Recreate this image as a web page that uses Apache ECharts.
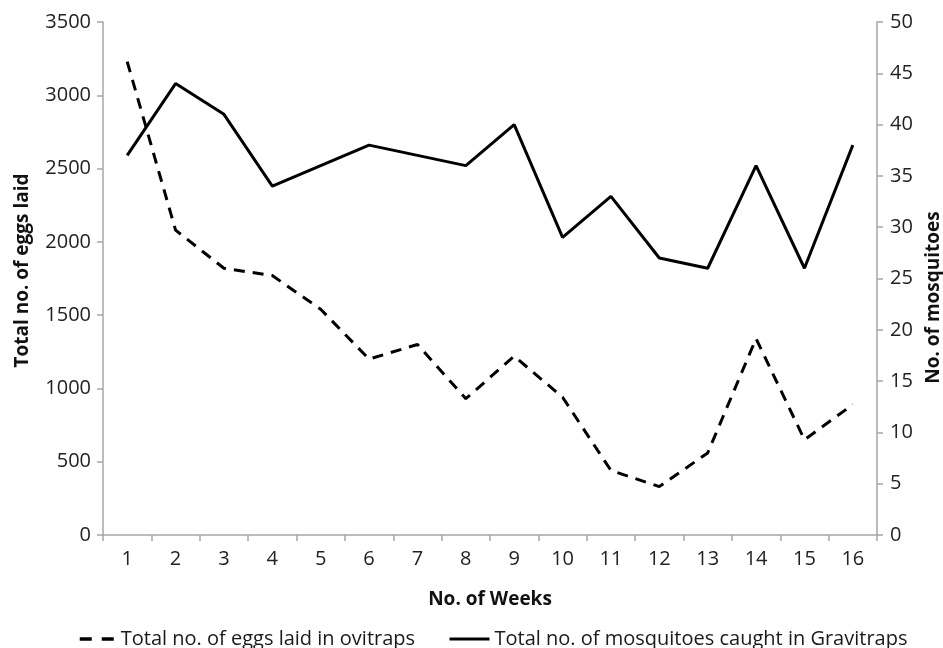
<!DOCTYPE html>
<html>
<head>
<meta charset="utf-8">
<script src="https://cdn.jsdelivr.net/npm/echarts@6/dist/echarts.min.js"></script>
<style>html,body{margin:0;padding:0;background:#fff}#c{width:943px;height:648px}</style>
</head>
<body>
<div id="c"></div>
<script>
const weeks = ['1','2','3','4','5','6','7','8','9','10','11','12','13','14','15','16'];
const eggs = [3230, 2080, 1820, 1770, 1540, 1200, 1300, 930, 1220, 940, 440, 330, 560, 1340, 650, 890];
const mosquitoes = [37, 44, 41, 34, 36, 38, 37, 36, 40, 29, 33, 27, 26, 36, 26, 38];
const leftTicks = [0, 3500, 500];
const rightTicks = [0, 50, 5];

const FONT = '"Open Sans", "Noto Sans", sans-serif';
const axisGray = '#a6a6a6';
const hideSym = { color: 'transparent', borderColor: 'transparent', borderWidth: 0 };
const chart = echarts.init(document.getElementById('c'));
chart.setOption({
  animation: false,
  textStyle: { fontFamily: FONT, color: '#222' },
  grid: { left: 103, right: 66, top: 22, bottom: 113, containLabel: false, outerBoundsMode: 'none' },
  legend: [
    { data: ['Total no. of eggs laid in ovitraps'], left: 73, top: 624, itemWidth: 36, itemHeight: 14, itemGap: 0,
      itemStyle: hideSym, lineStyle: { width: 3.5, color: '#000', type: [12, 10] },
      textStyle: { fontFamily: FONT, fontSize: 20, color: '#1a1a1a' } },
    { data: ['Total no. of mosquitoes caught in Gravitraps'], left: 443, top: 624, itemWidth: 40, itemHeight: 14, itemGap: 0,
      itemStyle: hideSym, lineStyle: { width: 3, color: '#000' },
      textStyle: { fontFamily: FONT, fontSize: 20, color: '#1a1a1a' } }
  ],
  xAxis: {
    type: 'category', data: weeks, boundaryGap: true,
    name: 'No. of Weeks', nameLocation: 'middle', nameGap: 55,
    nameTextStyle: { fontFamily: FONT, fontSize: 19, fontWeight: 'bold', color: '#111' },
    axisLine: { lineStyle: { color: axisGray, width: 1.5 } },
    axisTick: { show: true, alignWithLabel: false, length: 6, lineStyle: { color: axisGray, width: 1.5 } },
    axisLabel: { fontFamily: FONT, fontSize: 20, color: '#222', margin: 14 },
    splitLine: { show: false }
  },
  yAxis: [
    { type: 'value', position: 'left', min: leftTicks[0], max: leftTicks[1], interval: leftTicks[2],
      name: 'Total no. of eggs laid', nameLocation: 'middle', nameRotate: 90, nameGap: 71,
      nameTextStyle: { fontFamily: FONT, fontSize: 19, fontWeight: 'bold', color: '#111', padding: [0, 0, 0, 16] },
      axisLine: { show: true, lineStyle: { color: axisGray, width: 1.5 } },
      axisTick: { show: true, length: 6, lineStyle: { color: axisGray, width: 1.5 } },
      axisLabel: { fontFamily: FONT, fontSize: 20, color: '#222', margin: 12, formatter: v => String(v) },
      splitLine: { show: false } },
    { type: 'value', position: 'right', min: rightTicks[0], max: rightTicks[1], interval: rightTicks[2],
      name: 'No. of mosquitoes', nameLocation: 'middle', nameRotate: 90, nameGap: 44,
      nameTextStyle: { fontFamily: FONT, fontSize: 19, fontWeight: 'bold', color: '#111', padding: [0, 38, 0, 0] },
      axisLine: { show: true, lineStyle: { color: axisGray, width: 1.5 } },
      axisTick: { show: true, length: 6, lineStyle: { color: axisGray, width: 1.5 } },
      axisLabel: { fontFamily: FONT, fontSize: 20, color: '#222', margin: 13, formatter: v => String(v) },
      splitLine: { show: false } }
  ],
  series: [
    { name: 'Total no. of eggs laid in ovitraps', type: 'line', yAxisIndex: 0, data: eggs,
      symbol: 'none', color: '#000',
      lineStyle: { color: '#000', width: 3, type: [11, 8] } },
    { name: 'Total no. of mosquitoes caught in Gravitraps', type: 'line', yAxisIndex: 1, data: mosquitoes,
      symbol: 'none', color: '#000',
      lineStyle: { color: '#000', width: 3, type: 'solid' } }
  ]
});
</script>
</body>
</html>
